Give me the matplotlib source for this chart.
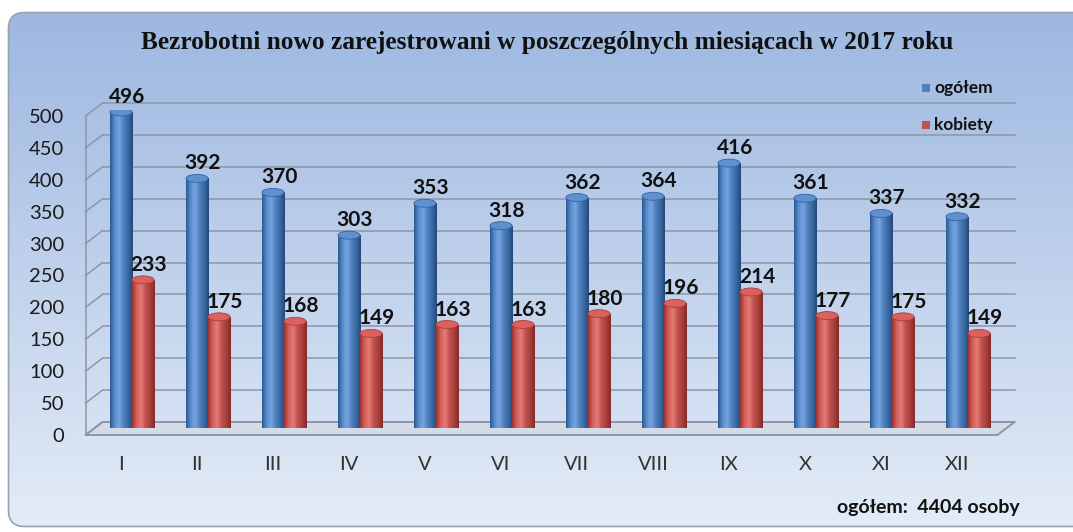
import numpy as np
import matplotlib
matplotlib.use("Agg")
import matplotlib.pyplot as plt
from matplotlib.patches import Rectangle, Ellipse, Polygon, FancyBboxPatch
from matplotlib.colors import LinearSegmentedColormap

# data
months = ["I", "II", "III", "IV", "V", "VI", "VII", "VIII", "IX", "X", "XI", "XII"]
ogolem = [496, 392, 370, 303, 353, 318, 362, 364, 416, 361, 337, 332]
kobiety = [233, 175, 168, 149, 163, 163, 180, 196, 214, 177, 175, 149]
yticks = list(range(0, 501, 50))
title = "Bezrobotni nowo zarejestrowani w poszczególnych miesiącach w 2017 roku"
total_note = "ogółem:  4404 osoby"

SANS = "Lato"

W, H = 1073, 532
fig = plt.figure(figsize=(W / 100, H / 100), dpi=100)
fig.patch.set_facecolor("white")

# background panel (pixel coords)
bg = fig.add_axes([0, 0, 1, 1], zorder=0)
bg.set_xlim(0, W)
bg.set_ylim(H, 0)
bg.axis("off")
panel = FancyBboxPatch((8.5, 12.5), 1100, 514, boxstyle="round,pad=0,rounding_size=16",
                       facecolor="none", edgecolor="#9aa3ad", lw=1.2, zorder=2)
bg.add_patch(panel)
grad = np.linspace(0, 1, 256)[:, None]
c_top = np.array([0x9b, 0xb6, 0xe0]) / 255
c_bot = np.array([0xe4, 0xec, 0xf7]) / 255
img = c_top[None, None, :] * (1 - grad[..., None]) + c_bot[None, None, :] * grad[..., None]
im = bg.imshow(img, extent=[0, W, H, 0], aspect="auto", zorder=1)
im.set_clip_path(panel)

# main plot axes, bars sit at mid-depth
ax = fig.add_axes([94 / W, (H - 428.5) / H, 912 / W, 319 / H], zorder=1)
ax.set_xlim(-0.5, 11.5)
ax.set_ylim(0, 500)
ax.axis("off")
ax.patch.set_visible(False)

DX = 8.5 / 76       # depth shift in data units
DY = 6.5 / 0.638
grid_c = "#8c97a6"

# floor
floor = Polygon([(-0.5 - DX, -DY), (11.5 - DX, -DY), (11.5 + DX, DY), (-0.5 + DX, DY)],
                closed=True, facecolor="#d3dbe6", edgecolor=grid_c, lw=1.4,
                zorder=1, clip_on=False)
ax.add_patch(floor)

# back wall and left wall
for v in yticks:
    ax.plot([-0.5 + DX, 11.5 + DX], [v + DY, v + DY], color=grid_c, lw=1.1,
            zorder=1, clip_on=False)
    ax.plot([-0.5 - DX, -0.5 + DX], [v - DY, v + DY], color=grid_c, lw=1.1,
            zorder=1, clip_on=False)
    ax.annotate(str(v), (-0.5, v), xytext=(-29.5, -8), textcoords="offset pixels",
                ha="right", va="center", fontsize=14.5, family=SANS,
                color="#1a1a1a", annotation_clip=False)
ax.plot([-0.5 - DX, -0.5 - DX], [-DY, 500 - DY], color=grid_c, lw=1.1,
        zorder=1, clip_on=False)

blue_cm = LinearSegmentedColormap.from_list(
    "b", ["#2b5893", "#5a8ccc", "#74a3e0", "#4f81bd", "#3a68a3", "#23487a"])
red_cm = LinearSegmentedColormap.from_list(
    "r", ["#9a3431", "#d4625e", "#e87a75", "#c0504d", "#a8403d", "#832a28"])
strip = np.linspace(0, 1, 64)[None, :]
bw = 0.29
EH = 12.5


def cylinder(xc, h, cmap, top_c, z):
    x0 = xc - bw / 2
    rect = ax.bar(xc, h, width=bw, color="none", zorder=z)[0]
    g = ax.imshow(strip, cmap=cmap, extent=[x0, x0 + bw, -EH / 2, h],
                  aspect="auto", zorder=z, interpolation="bilinear")
    g.set_clip_path(rect)
    bot = Ellipse((xc, 0), bw, EH, facecolor="none", edgecolor="none", zorder=z)
    ax.add_patch(bot)
    g2 = ax.imshow(strip, cmap=cmap, extent=[x0, x0 + bw, -EH / 2, h],
                   aspect="auto", zorder=z, interpolation="bilinear")
    g2.set_clip_path(bot)
    ax.add_patch(Ellipse((xc, h), bw, EH, facecolor=top_c, edgecolor=cmap(0.05),
                         lw=0.6, zorder=z + 0.1))


for i in range(len(months)):
    xb = i - 0.145
    xr = i + 0.145
    cylinder(xb, ogolem[i], blue_cm, "#5f90cf", 3 + i * 0.01)
    cylinder(xr, kobiety[i], red_cm, "#d9625e", 4 + i * 0.01)
    ax.annotate(str(ogolem[i]), (xb, ogolem[i]), xytext=(6, 9), textcoords="offset pixels",
                ha="center", va="baseline", fontsize=15, fontweight="bold",
                family=SANS, color="#111111", zorder=10, annotation_clip=False)
    ax.annotate(str(kobiety[i]), (xr, kobiety[i]), xytext=(6, 9), textcoords="offset pixels",
                ha="center", va="baseline", fontsize=15, fontweight="bold",
                family=SANS, color="#111111", zorder=10, annotation_clip=False)
    ax.annotate(months[i], (xb, 0), xytext=(0, -35.5), textcoords="offset pixels",
                ha="center", va="center", fontsize=14.5, family=SANS,
                color="#333333", annotation_clip=False)

# title, legend, note (pixel coords on background axes)
bg.text(547, 42, title, ha="center", va="center", fontsize=18.3, fontweight="bold",
        family="Liberation Serif", color="#111111", zorder=5)
for yy, col, lab in [(88, "#4f81bd", "ogółem"), (125, "#c0504d", "kobiety")]:
    bg.add_patch(Rectangle((922, yy - 4), 8, 8, facecolor=col, edgecolor="none", zorder=5))
    bg.text(934, yy, lab, ha="left", va="center", fontsize=12.5, fontweight="bold",
            family=SANS, color="#111111", zorder=5)
bg.text(1020, 508, total_note, ha="right", va="center", fontsize=14, fontweight="bold",
        family=SANS, color="#111111", zorder=5)

fig.savefig("out.png", dpi=100)
